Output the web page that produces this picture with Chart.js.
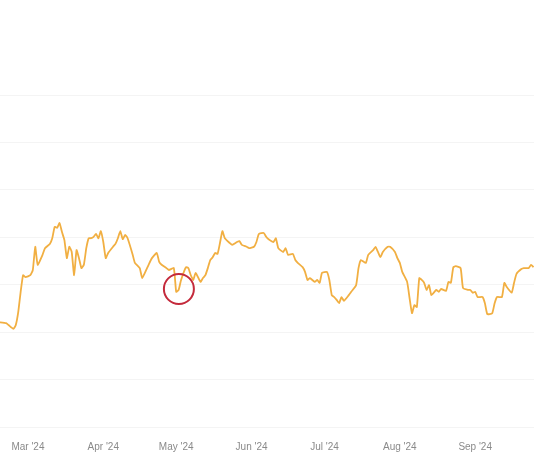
<!DOCTYPE html>
<html>
<head>
<meta charset="utf-8">
<script src="https://cdn.jsdelivr.net/npm/chart.js@4.4.1/dist/chart.umd.min.js"></script>
<style>
  html, body { margin: 0; padding: 0; background: #fff; overflow: hidden; }
  #wrap { width: 534px; height: 462px; }
</style>
</head>
<body>
<div id="wrap"><canvas id="chart"></canvas></div>
<script>
// days counted from 1 Mar 2024 (day 0)
const days = [
  -12, -9, -8, -6, -5, -4, -3, -2, -1, 1, 2, 3, 4, 6, 7, 9, 10, 11, 12, 13,
  14, 15, 16, 17, 18, 19, 20, 21, 22, 23, 24, 25, 26, 27, 28, 29, 30, 31, 32, 33,
  35, 36, 37, 38, 39, 40, 41, 43, 44, 46, 47, 49, 50, 51, 53, 54, 55, 57, 58, 60,
  61, 62, 63, 65, 66, 67, 68, 69, 71, 72, 73, 74, 75, 76, 77, 78, 79, 80, 81, 83,
  84, 86, 87, 88, 90, 91, 93, 94, 95, 97, 98, 99, 101, 102, 103, 105, 106, 107, 109, 110,
  111, 113, 114, 115, 116, 118, 119, 120, 121, 123, 124, 125, 126, 127, 128, 129, 130, 132, 133, 135,
  136, 137, 139, 140, 142, 143, 144, 145, 146, 148, 149, 151, 152, 153, 154, 156, 157, 158, 159, 160,
  161, 162, 163, 164, 165, 166, 168, 169, 170, 172, 173, 174, 175, 176, 178, 179, 181, 182, 183, 184,
  185, 187, 188, 189, 191, 192, 193, 195, 196, 197, 199, 200, 201, 203, 204, 206, 207, 208
];
const values = [
  22.1, 21.9, 21.5, 20.7, 21.5, 24.2, 28.5, 32.0, 31.6, 32.0, 33.1, 38.0, 34.2, 36.3, 37.7, 38.6, 39.8, 42.2, 42.0, 43.0,
  41.1, 39.4, 35.6, 38.0, 36.9, 32.0, 37.3, 35.6, 33.5, 34.2, 37.7, 39.8, 39.8, 40.1, 40.7, 39.8, 41.3, 39.0, 35.6, 36.7,
  38.0, 38.6, 39.8, 41.3, 39.6, 40.5, 39.8, 36.5, 34.6, 33.5, 31.4, 33.5, 34.6, 35.6, 36.7, 34.8, 34.2, 33.5, 33.1, 33.5,
  28.5, 28.9, 31.0, 33.7, 33.5, 32.0, 31.0, 32.5, 30.6, 31.4, 32.0, 33.5, 35.2, 35.8, 36.7, 36.5, 38.8, 41.3, 39.8, 38.8,
  38.4, 39.0, 39.2, 38.4, 38.0, 37.7, 38.0, 39.0, 40.7, 40.9, 40.1, 39.6, 39.0, 39.8, 37.7, 36.9, 37.7, 36.3, 36.5, 35.2,
  34.6, 33.7, 32.7, 31.0, 31.4, 30.6, 31.0, 30.4, 32.5, 32.7, 31.0, 27.8, 27.4, 26.8, 26.1, 27.4, 26.6, 27.8, 28.5, 29.9,
  33.5, 35.2, 34.6, 36.3, 37.3, 38.0, 36.9, 35.8, 36.9, 38.0, 38.0, 36.9, 35.6, 34.6, 32.7, 30.6, 27.2, 24.0, 25.7, 25.3,
  31.4, 31.0, 30.4, 28.9, 29.9, 27.8, 28.9, 28.5, 29.1, 28.7, 30.6, 30.4, 33.7, 33.9, 33.5, 29.3, 28.9, 28.9, 28.3, 28.5,
  27.4, 27.4, 26.1, 23.8, 24.0, 26.1, 27.4, 27.4, 30.4, 29.5, 28.3, 30.4, 32.3, 33.3, 33.5, 33.5, 34.2, 33.7
];

// month ticks (first day of each month)
const tickDays = [0, 31, 61, 92, 122, 153, 184];
const tickLabels = ["Mar '24", "Apr '24", "May '24", "Jun '24", "Jul '24", "Aug '24", "Sep '24"];

// circled dip
const markDay = 62.1;
const markValue = 29.1;

const circlePlugin = {
  id: 'circleMark',
  afterDatasetsDraw(chart) {
    const { ctx, scales } = chart;
    const cx = scales.x.getPixelForValue(markDay);
    const cy = scales.y.getPixelForValue(markValue);
    ctx.save();
    ctx.beginPath();
    ctx.arc(cx, cy, 15, 0, Math.PI * 2);
    ctx.strokeStyle = '#c42a3c';
    ctx.lineWidth = 2;
    ctx.stroke();
    ctx.restore();
  }
};

new Chart(document.getElementById('chart'), {
  type: 'line',
  data: {
    datasets: [{
      data: days.map((d, i) => ({ x: d, y: values[i] })),
      borderColor: '#f1af42',
      borderWidth: 1.8,
      pointRadius: 0,
      tension: 0.15,
      fill: false
    }]
  },
  options: {
    responsive: true,
    maintainAspectRatio: false,
    animation: false,
    layout: { padding: { top: 95, left: 0, right: 0, bottom: 0 } },
    plugins: { legend: { display: false }, tooltip: { enabled: false } },
    scales: {
      x: {
        type: 'linear',
        min: -11.5,
        max: 208.2,
        grid: { display: false, drawTicks: false },
        border: { display: false },
        afterFit: (s) => { s.height = 35; s.paddingLeft = 0; s.paddingRight = 0; },
        afterBuildTicks: (scale) => {
          scale.ticks = tickDays.map(v => ({ value: v }));
        },
        ticks: {
          autoSkip: false,
          maxRotation: 0,
          padding: 14,
          color: '#8a8a8a',
          font: { family: 'Liberation Sans', size: 10 },
          callback: (v) => {
            const i = tickDays.indexOf(v);
            return i >= 0 ? tickLabels[i] : '';
          }
        }
      },
      y: {
        min: 0,
        max: 70,
        afterFit: (s) => { s.width = 0; s.paddingTop = 0; s.paddingBottom = 0; },
        ticks: { display: false, stepSize: 10 },
        border: { display: false },
        grid: { color: 'rgba(0,0,0,0.045)', drawTicks: false }
      }
    }
  },
  plugins: [circlePlugin]
});
</script>
</body>
</html>
